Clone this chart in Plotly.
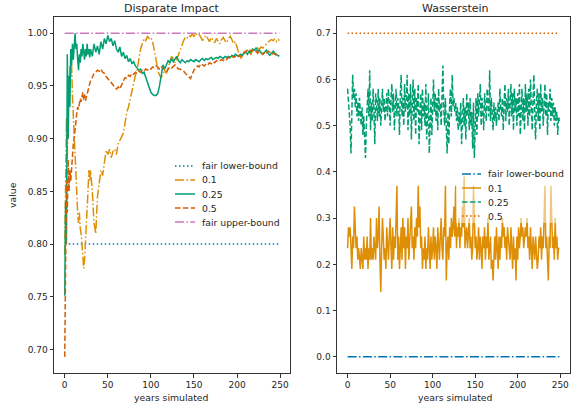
import plotly.graph_objects as go

# ---------------- data ----------------
years_fine = list(range(0, 30)) + list(range(30, 249, 2)) + [249]
years_all = list(range(0, 250))
di_lower = 0.8
di_upper = 1.0
ws_lower = 0.0
ws_half = 0.70

di_01 = [0.79, 0.86, 0.92, 0.88, 0.95, 0.93, 0.97, 0.96, 0.97, 0.94,
         0.92, 0.90, 0.88, 0.86, 0.85, 0.83, 0.82, 0.83, 0.815, 0.81,
         0.80, 0.79, 0.777, 0.785, 0.80, 0.81, 0.83, 0.85, 0.87, 0.86,
         0.87, 0.85, 0.82, 0.81, 0.845, 0.86, 0.87, 0.865, 0.88, 0.889,
         0.885, 0.89, 0.882, 0.888, 0.89, 0.885, 0.895, 0.898, 0.902, 0.905,
         0.915, 0.925, 0.93, 0.938, 0.945, 0.952, 0.96, 0.965, 0.975, 0.985,
         0.99, 0.995, 0.993, 0.997, 0.995, 0.996, 0.992, 0.985, 0.975, 0.965,
         0.96, 0.958, 0.962, 0.965, 0.962, 0.968, 0.972, 0.978, 0.976, 0.972,
         0.975, 0.98, 0.985, 0.99, 0.993, 0.996, 0.995, 0.998, 0.997, 0.999,
         0.997, 1.0, 0.998, 0.999, 0.996, 0.993, 0.996, 0.998, 0.995, 0.992,
         0.996, 0.994, 0.991, 0.995, 0.993, 0.99, 0.994, 0.996, 0.993, 0.991,
         0.995, 0.997, 0.994, 0.99, 0.992, 0.986, 0.98, 0.976, 0.978, 0.982,
         0.981, 0.984, 0.982, 0.98, 0.984, 0.985, 0.983, 0.986, 0.985, 0.987,
         0.986, 0.988, 0.99, 0.991, 0.993, 0.994, 0.993, 0.995, 0.992, 0.994,
         0.993]

di_025 = [0.751, 0.84, 0.80, 0.98, 0.90, 0.96, 0.93, 0.985, 0.97, 0.99,
          0.975, 0.995, 1.0, 0.985, 0.99, 0.975, 0.965, 0.98, 0.972, 0.985,
          0.978, 0.99, 0.98, 0.975, 0.985, 0.978, 0.99, 0.98, 0.985, 0.977,
          0.985, 0.978, 0.99, 0.982, 0.988, 0.98, 0.992, 0.985, 0.995, 0.99,
          0.998, 0.992, 0.995, 0.988, 0.993, 0.985, 0.982, 0.987, 0.978, 0.982,
          0.976, 0.979, 0.973, 0.976, 0.971, 0.973, 0.969, 0.967, 0.965, 0.966,
          0.962, 0.963, 0.958, 0.952, 0.947, 0.944, 0.942, 0.941, 0.941, 0.943,
          0.95, 0.962, 0.97, 0.966, 0.97, 0.974, 0.972, 0.976, 0.973, 0.975,
          0.978, 0.974, 0.972, 0.975, 0.973, 0.972, 0.974, 0.973, 0.975, 0.974,
          0.973, 0.975, 0.974, 0.973, 0.975, 0.976, 0.974, 0.976, 0.975, 0.976,
          0.977, 0.975, 0.976, 0.977, 0.976, 0.978, 0.977, 0.976, 0.978, 0.977,
          0.978, 0.977, 0.979, 0.978, 0.98, 0.979, 0.978, 0.98, 0.979, 0.981,
          0.982, 0.98, 0.983, 0.982, 0.985, 0.984, 0.986, 0.983, 0.984, 0.981,
          0.98, 0.982, 0.984, 0.981, 0.979, 0.981, 0.983, 0.981, 0.98, 0.979,
          0.978]

di_05 = [0.693, 0.80, 0.86, 0.83, 0.88, 0.85, 0.87, 0.86, 0.876, 0.89,
         0.895, 0.901, 0.91, 0.92, 0.924, 0.93, 0.928, 0.933, 0.938, 0.935,
         0.94, 0.944, 0.937, 0.942, 0.936, 0.939, 0.944, 0.947, 0.949, 0.952,
         0.955, 0.958, 0.962, 0.963, 0.965, 0.964, 0.966, 0.963, 0.962, 0.959,
         0.957, 0.955, 0.952, 0.95, 0.948, 0.947, 0.949, 0.947, 0.951, 0.955,
         0.958, 0.957, 0.96, 0.959, 0.962, 0.961, 0.963, 0.962, 0.964, 0.963,
         0.965, 0.964, 0.966, 0.965, 0.967, 0.966, 0.968, 0.967, 0.969, 0.968,
         0.966, 0.968, 0.967, 0.965, 0.963, 0.966, 0.968, 0.967, 0.969, 0.97,
         0.968, 0.966, 0.966, 0.965, 0.964, 0.962, 0.96, 0.958, 0.957, 0.961,
         0.965, 0.967, 0.969, 0.968, 0.971, 0.97, 0.969, 0.971, 0.97, 0.972,
         0.971, 0.973, 0.972, 0.974, 0.973, 0.974, 0.975, 0.974, 0.976, 0.975,
         0.977, 0.976, 0.978, 0.977, 0.978, 0.977, 0.979, 0.978, 0.98, 0.981,
         0.983, 0.984, 0.985, 0.983, 0.984, 0.982, 0.983, 0.981, 0.983, 0.982,
         0.98, 0.982, 0.981, 0.983, 0.982, 0.98, 0.981, 0.98, 0.979, 0.979,
         0.979]

ws_01 = [0.235, 0.28, 0.26, 0.28, 0.235, 0.19, 0.26, 0.235, 0.325, 0.26,
         0.235, 0.26, 0.21, 0.235, 0.21, 0.19, 0.235, 0.21, 0.19, 0.26,
         0.21, 0.235, 0.21, 0.26, 0.19, 0.235, 0.21, 0.30, 0.21, 0.235,
         0.21, 0.26, 0.235, 0.21, 0.30, 0.235, 0.26, 0.325, 0.21, 0.14,
         0.235, 0.30, 0.26, 0.21, 0.235, 0.19, 0.28, 0.235, 0.21, 0.26,
         0.30, 0.235, 0.19, 0.28, 0.21, 0.26, 0.235, 0.30, 0.37, 0.21,
         0.26, 0.19, 0.235, 0.28, 0.21, 0.30, 0.235, 0.28, 0.19, 0.26,
         0.235, 0.30, 0.21, 0.26, 0.28, 0.325, 0.235, 0.26, 0.21, 0.28,
         0.235, 0.30, 0.26, 0.37, 0.28, 0.325, 0.235, 0.26, 0.19, 0.235,
         0.21, 0.26, 0.19, 0.235, 0.21, 0.28, 0.235, 0.19, 0.26, 0.21,
         0.235, 0.28, 0.21, 0.26, 0.235, 0.19, 0.28, 0.235, 0.21, 0.26,
         0.30, 0.235, 0.21, 0.28, 0.26, 0.37, 0.165, 0.235, 0.26, 0.21,
         0.28, 0.235, 0.30, 0.26, 0.28, 0.325, 0.26, 0.37, 0.235, 0.28,
         0.26, 0.30, 0.235, 0.28, 0.26, 0.325, 0.28, 0.39, 0.235, 0.26,
         0.28, 0.235, 0.26, 0.30, 0.235, 0.26, 0.21, 0.235, 0.37, 0.26,
         0.235, 0.26, 0.21, 0.235, 0.28, 0.21, 0.26, 0.235, 0.19, 0.26,
         0.235, 0.28, 0.21, 0.26, 0.235, 0.30, 0.21, 0.235, 0.26, 0.19,
         0.21, 0.165, 0.235, 0.26, 0.21, 0.28, 0.235, 0.19, 0.26, 0.21,
         0.26, 0.235, 0.30, 0.26, 0.28, 0.235, 0.26, 0.21, 0.28, 0.26,
         0.235, 0.21, 0.28, 0.235, 0.19, 0.26, 0.21, 0.235, 0.165, 0.26,
         0.21, 0.28, 0.235, 0.26, 0.30, 0.26, 0.28, 0.235, 0.26, 0.28,
         0.26, 0.30, 0.235, 0.26, 0.21, 0.28, 0.235, 0.19, 0.26, 0.235,
         0.21, 0.26, 0.235, 0.19, 0.21, 0.26, 0.235, 0.28, 0.21, 0.26,
         0.235, 0.30, 0.37, 0.235, 0.26, 0.21, 0.165, 0.26, 0.235, 0.37,
         0.28, 0.235, 0.26, 0.21, 0.30, 0.235, 0.26, 0.21, 0.235, 0.235]

ws_025 = [0.58, 0.55, 0.52, 0.50, 0.44, 0.53, 0.61, 0.56, 0.58, 0.54,
          0.57, 0.52, 0.55, 0.51, 0.56, 0.53, 0.50, 0.54, 0.48, 0.52,
          0.46, 0.43, 0.50, 0.55, 0.58, 0.52, 0.62, 0.49, 0.55, 0.51,
          0.58, 0.53, 0.46, 0.57, 0.55, 0.51, 0.58, 0.52, 0.56, 0.50,
          0.55, 0.58, 0.53, 0.56, 0.51, 0.54, 0.57, 0.52, 0.58, 0.55,
          0.50, 0.56, 0.59, 0.53, 0.57, 0.49, 0.55, 0.58, 0.52, 0.56,
          0.54, 0.48, 0.57, 0.61, 0.52, 0.56, 0.50, 0.59, 0.53, 0.55,
          0.61, 0.49, 0.57, 0.52, 0.59, 0.47, 0.55, 0.60, 0.51, 0.58,
          0.48, 0.56, 0.53, 0.59, 0.46, 0.54, 0.57, 0.49, 0.58, 0.52,
          0.55, 0.50, 0.59, 0.47, 0.53, 0.57, 0.44, 0.52, 0.56, 0.48,
          0.55, 0.60, 0.53, 0.57, 0.51, 0.56, 0.49, 0.58, 0.53, 0.55,
          0.50, 0.57, 0.63, 0.54, 0.50, 0.56, 0.48, 0.44, 0.53, 0.46,
          0.55, 0.58, 0.52, 0.61, 0.54, 0.56, 0.53, 0.55, 0.51, 0.54,
          0.49, 0.53, 0.50, 0.55, 0.46, 0.52, 0.56, 0.50, 0.54, 0.47,
          0.57, 0.52, 0.55, 0.49, 0.56, 0.50, 0.53, 0.45, 0.55, 0.43,
          0.51, 0.56, 0.48, 0.57, 0.52, 0.55, 0.59, 0.50, 0.56, 0.53,
          0.49, 0.57, 0.54, 0.51, 0.58, 0.55, 0.52, 0.62, 0.51, 0.56,
          0.53, 0.49, 0.55, 0.51, 0.54, 0.50, 0.53, 0.55, 0.51, 0.58,
          0.54, 0.52, 0.56, 0.49, 0.55, 0.59, 0.51, 0.56, 0.53, 0.58,
          0.50, 0.55, 0.59, 0.52, 0.57, 0.49, 0.58, 0.53, 0.56, 0.50,
          0.57, 0.52, 0.59, 0.48, 0.55, 0.58, 0.51, 0.56, 0.49, 0.59,
          0.53, 0.57, 0.50, 0.58, 0.52, 0.60, 0.54, 0.49, 0.56, 0.61,
          0.52, 0.47, 0.55, 0.58, 0.51, 0.57, 0.49, 0.59, 0.53, 0.56,
          0.50, 0.55, 0.59, 0.52, 0.57, 0.48, 0.55, 0.53, 0.58, 0.51,
          0.56, 0.52, 0.55, 0.50, 0.54, 0.51, 0.53, 0.48, 0.52, 0.51]

left_ticks = [0.70, 0.75, 0.80, 0.85, 0.90, 0.95, 1.00]
right_ticks = [0.0, 0.1, 0.2, 0.3, 0.4, 0.5, 0.6, 0.7]
x_ticks = [0, 50, 100, 150, 200, 250]

# ---------------- style ----------------
W, H = 571, 404
BLUE, ORANGE, GREEN, VERM, PINK = "#0173B2", "#DE8F05", "#029E73", "#D55E00", "#CC78BC"
DOT = "1.5px,2.5px"
DASH = "5.5px,2.4px"
DASHDOT = "9px,2.4px,1.5px,2.4px"
LW = 1.5
FONT = "DejaVu Sans"
TXT = "#262626"

def px(x):
    return x / W

def py(y):
    return 1 - y / H

fig = go.Figure()

def line(x, y, color, dash, xa="x", ya="y"):
    fig.add_trace(go.Scatter(x=x, y=y, mode="lines", xaxis=xa, yaxis=ya,
                             line=dict(color=color, width=LW, dash=dash),
                             showlegend=False, hoverinfo="skip"))

first, last = years_all[0], years_all[-1]
# left panel
line([first, last], [di_lower, di_lower], BLUE, DOT)
line(years_fine, di_01, ORANGE, DASHDOT)
line(years_fine, di_025, GREEN, "solid")
line(years_fine, di_05, VERM, DASH)
line([first, last], [di_upper, di_upper], PINK, DASHDOT)
# right panel
line([first, last], [ws_lower, ws_lower], BLUE, DASHDOT, "x2", "y2")
line(years_all, ws_01, ORANGE, "solid", "x2", "y2")
line(years_all, ws_025, GREEN, DASH, "x2", "y2")
line([first, last], [ws_half, ws_half], VERM, DOT, "x2", "y2")

axis_common = dict(showline=True, mirror=True, linecolor="#333", linewidth=1,
                   ticks="outside", ticklen=3.5, tickwidth=1, tickcolor="#333",
                   showgrid=False, zeroline=False,
                   tickfont=dict(family=FONT, size=9, color=TXT))

yd = [py(373), py(17)]
fig.update_layout(
    width=W, height=H, margin=dict(l=0, r=0, t=0, b=0),
    paper_bgcolor="white", plot_bgcolor="white", showlegend=False,
    xaxis=dict(domain=[px(54), px(290)], range=[-12.45, 261.45],
               tickvals=x_ticks, anchor="y", **axis_common),
    yaxis=dict(domain=yd, range=[0.6777, 1.0154], tickvals=left_ticks,
               tickformat=".2f", anchor="x", **axis_common),
    xaxis2=dict(domain=[px(337), px(570)], range=[-12.45, 261.45],
                tickvals=x_ticks, anchor="y2", **axis_common),
    yaxis2=dict(domain=yd, range=[-0.035, 0.735], tickvals=right_ticks,
                tickformat=".1f", anchor="x2", **axis_common),
)

def text(x, y, s, size=9.3, anchor="center", angle=0):
    fig.add_annotation(x=px(x), y=py(y), xref="paper", yref="paper", text=s,
                       showarrow=False, xanchor=anchor, yanchor="middle",
                       textangle=angle,
                       font=dict(family=FONT, size=size, color=TXT))

text(172, 8, "Disparate Impact", size=11)
text(455, 8, "Wasserstein", size=11)
text(172, 397, "years simulated")
text(455, 397, "years simulated")
text(12, 195, "value", angle=-90)

# manual legends (matplotlib-like compact spacing)
def leg_rect(x0, y0, x1, y1, alpha):
    fig.add_shape(type="rect", xref="paper", yref="paper",
                  x0=px(x0), x1=px(x1), y0=py(y1), y1=py(y0),
                  fillcolor=f"rgba(255,255,255,{alpha})", line=dict(width=0))

def leg_item(x0, x1, tx, y, color, dash, label):
    fig.add_shape(type="line", xref="paper", yref="paper",
                  x0=px(x0), x1=px(x1), y0=py(y), y1=py(y),
                  line=dict(color=color, width=LW, dash=dash))
    text(tx, y, label, size=9.3, anchor="left")

left_items = [(BLUE, DOT, "fair lower-bound"), (ORANGE, DASHDOT, "0.1"),
              (GREEN, "solid", "0.25"), (VERM, DASH, "0.5"),
              (PINK, DASHDOT, "fair upper-bound")]
leg_rect(168, 156, 288, 231, 0.8)
for i, (c, d, lab) in enumerate(left_items):
    leg_item(175, 195, 200, 166 + 14 * i, c, d, lab)

right_items = [(BLUE, DASHDOT, "fair lower-bound"), (ORANGE, "solid", "0.1"),
               (GREEN, DASH, "0.25"), (VERM, DOT, "0.5")]
leg_rect(456, 165, 570, 223, 0.5)
for i, (c, d, lab) in enumerate(right_items):
    leg_item(462, 481, 486, 174 + 14 * i, c, d, lab)

fig.write_html("out.html", config={"displayModeBar": False},
               post_script="document.body.style.margin='0';document.body.style.overflow='hidden';")
